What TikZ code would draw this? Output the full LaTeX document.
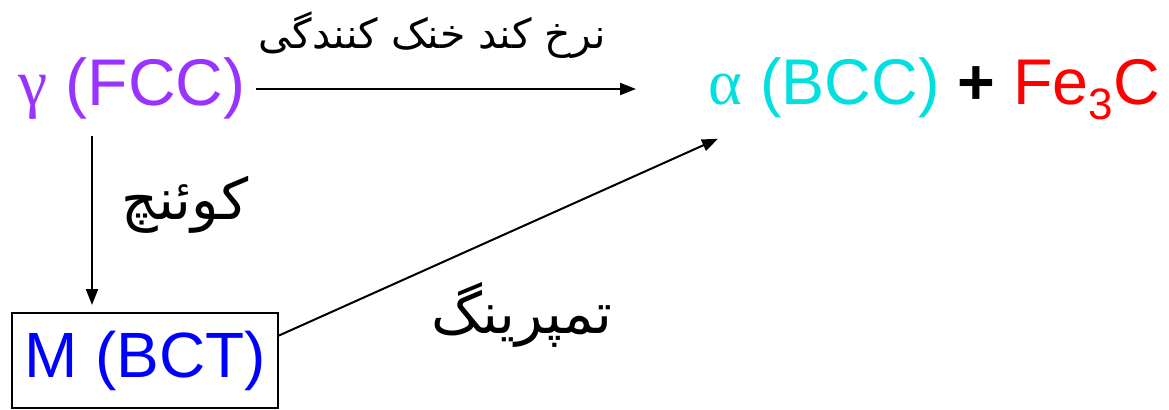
\documentclass[tikz,border=0pt]{standalone}
\usepackage{fontspec}
\setmainfont{Liberation Sans}
\newfontfamily\grk{Liberation Serif}
\newfontfamily\arabicfont[Script=Arabic]{DejaVu Sans}
\TeXXeTstate=1
\usetikzlibrary{arrows.meta,calc}
\definecolor{gpurple}{HTML}{9933FF}
\definecolor{acyan}{HTML}{00E0E0}
\definecolor{mblue}{HTML}{0000FF}
\definecolor{fred}{HTML}{FF0000}
\tikzset{
  big/.style={font=\fontsize{33}{36}\selectfont, inner sep=0pt},
  arr/.style={line width=1pt, -{Triangle[length=8pt,width=6pt]}},
  lbl/.style={font=\arabicfont\fontsize{20.5}{24}\selectfont, inner sep=0pt},
  lblbig/.style={font=\arabicfont\fontsize{28.5}{32}\selectfont, inner sep=0pt},
}
\begin{document}
\begin{tikzpicture}[x=0.5pt,y=-0.5pt]
\useasboundingbox (0,0) rectangle (1169,409);
\node[big, text=gpurple, anchor=west] (g) at (18,89) {{\grk γ} (FCC)};
\node[big, font=\fontsize{32.3}{36}\selectfont, anchor=west] (a) at (708,89) {\textcolor{acyan}{{\grk α} (BCC)} \textbf{+} \textcolor{fred}{Fe\raisebox{-0.45ex}{\fontsize{22}{24}\selectfont 3}C}};
\node[big, font=\fontsize{32}{36}\selectfont, text=mblue, draw=black, line width=1pt, minimum width=133pt, minimum height=47.5pt] (m) at (145,360.5) {M (BCT)};
\coordinate (q) at (92,0);
\node[lbl] (l1) at (432,35) {\beginR نرخ کند خنک کنندگی\endR};
\node[lblbig] (l2) at (185,205) {\beginR کوئنچ\endR};
\node[lblbig] (l3) at (522,315) {\beginR تمپرینگ\endR};
\draw[arr, shorten <=5pt] (g.east) -- ($(g.east -| a.west)+(-72,0)$);
\draw[arr, shorten <=8pt, shorten >=3.5pt] (g.south -| q) -- (m.north -| q);
\draw[arr] ($(m.east)+(0,-25)$) -- ($(a.south west)+(10,18)$);
\end{tikzpicture}
\end{document}
